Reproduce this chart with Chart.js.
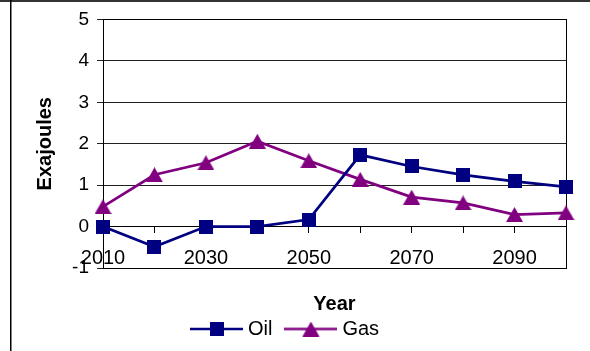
<!DOCTYPE html>
<html>
<head>
<meta charset="utf-8">
<script src="https://cdn.jsdelivr.net/npm/chart.js@4.4.1/dist/chart.umd.min.js"></script>
<style>
  html, body { margin: 0; padding: 0; background: #fff; }
  #wrap { width: 590px; height: 351px; }
</style>
</head>
<body>
<div id="wrap"><canvas id="chart" width="590" height="351"></canvas></div>
<script>
// Energy output by decade (exajoules)
const years = ['2010', '2020', '2030', '2040', '2050', '2060', '2070', '2080', '2090', '2100'];
const tickLabels = ['2010', '2030', '2050', '2070', '2090'];
const oil = [0, -0.49, 0, 0, 0.17, 1.73, 1.45, 1.25, 1.09, 0.96];
const gas = [0.48, 1.25, 1.54, 2.06, 1.59, 1.14, 0.71, 0.57, 0.29, 0.33];
const yMin = -1;
const yMax = 5;

const OIL_COLOR = '#000080';
const GAS_COLOR = '#800080';
const FONT = '"Liberation Sans", Arial, sans-serif';

// Marker bitmaps
function squareMarker(color, size) {
  const c = document.createElement('canvas');
  c.width = size; c.height = size;
  const g = c.getContext('2d');
  g.fillStyle = color;
  g.fillRect(0, 0, size, size);
  return c;
}
function triangleMarker(color, w, h) {
  const c = document.createElement('canvas');
  c.width = w; c.height = h;
  const g = c.getContext('2d');
  g.fillStyle = color;
  g.beginPath();
  g.moveTo(w / 2, 0);
  g.lineTo(w, h);
  g.lineTo(0, h);
  g.closePath();
  g.fill();
  return c;
}
// Legend swatch: line with the marker in the middle
function swatch(color, marker, width) {
  const c = document.createElement('canvas');
  c.width = width; c.height = Math.max(marker.height, 4);
  const g = c.getContext('2d');
  g.strokeStyle = color;
  g.lineWidth = 2.5;
  g.beginPath();
  g.moveTo(0, c.height / 2);
  g.lineTo(width, c.height / 2);
  g.stroke();
  g.drawImage(marker, Math.round((width - marker.width) / 2), Math.round((c.height - marker.height) / 2));
  return c;
}

const oilMarker = squareMarker(OIL_COLOR, 14);
const gasMarker = triangleMarker(GAS_COLOR, 17, 15);
const swatches = [swatch(OIL_COLOR, oilMarker, 53), swatch(GAS_COLOR, gasMarker, 53)];

// Outer frame and plot-area outline
const framePlugin = {
  id: 'frame',
  beforeDraw(chart) {
    const ctx = chart.ctx;
    ctx.save();
    ctx.fillStyle = '#fff';
    ctx.fillRect(0, 0, chart.width, chart.height);
    ctx.fillStyle = '#333';
    ctx.fillRect(0, 0, chart.width, 2);
    ctx.fillStyle = '#000';
    ctx.fillRect(10, 0, 1.5, chart.height);
    ctx.restore();
  },
  beforeDatasetsDraw(chart) {
    const a = chart.chartArea;
    const ctx = chart.ctx;
    ctx.save();
    ctx.strokeStyle = '#000';
    ctx.lineWidth = 1;
    ctx.strokeRect(Math.round(a.left) + 0.5, Math.round(a.top) + 0.5, Math.round(a.right - a.left), Math.round(a.bottom - a.top));
    ctx.restore();
  }
};

new Chart(document.getElementById('chart'), {
  type: 'line',
  data: {
    labels: years,
    datasets: [
      {
        label: 'Oil', data: oil,
        borderColor: OIL_COLOR, backgroundColor: OIL_COLOR, borderWidth: 2.75,
        pointStyle: oilMarker, tension: 0
      },
      {
        label: 'Gas', data: gas,
        borderColor: GAS_COLOR, backgroundColor: GAS_COLOR, borderWidth: 2.75,
        pointStyle: gasMarker, tension: 0
      }
    ]
  },
  options: {
    responsive: false,
    animation: false,
    devicePixelRatio: 1,
    layout: { padding: { left: 8, right: 24, top: 19, bottom: 2 } },
    scales: {
      x: {
        type: 'category',
        position: { y: 0 },
        offset: false,
        grid: { drawOnChartArea: false, drawTicks: true, tickLength: 6, color: '#000' },
        border: { display: true, color: '#000', width: 1 },
        ticks: {
          autoSkip: false, maxRotation: 0, padding: 14,
          color: '#000', font: { family: FONT, size: 20 },
          callback(value, index) {
            const lbl = years[index];
            return tickLabels.includes(lbl) ? lbl : '';
          }
        }
      },
      y: {
        min: yMin, max: yMax,
        afterFit(scale) { scale.width = 95; },
        grid: { color: '#222', lineWidth: 1, tickLength: 6 },
        border: { display: true, color: '#000', width: 1 },
        ticks: { stepSize: 1, padding: 8, color: '#000', font: { family: FONT, size: 19 } },
        title: {
          display: true, text: 'Exajoules', color: '#000',
          font: { family: FONT, size: 20, weight: 'bold' }, padding: { top: 25, bottom: 0 }
        }
      }
    },
    plugins: {
      title: {
        display: true, position: 'bottom', text: 'Year', color: '#000', weight: 500, fullSize: false,
        font: { family: FONT, size: 20, weight: 'bold' }, padding: { top: 24, bottom: -14 }
      },
      legend: {
        display: true, position: 'bottom',
        labels: {
          usePointStyle: true, pointStyleWidth: 43, padding: 17,
          color: '#000', font: { family: FONT, size: 20 },
          generateLabels(chart) {
            return chart.data.datasets.map((ds, i) => ({
              text: ds.label, pointStyle: swatches[i],
              fillStyle: ds.borderColor, strokeStyle: ds.borderColor,
              lineWidth: 0, hidden: false, datasetIndex: i, fontColor: '#000'
            }));
          }
        }
      },
      tooltip: { enabled: false }
    },
    elements: { point: { radius: 8, hoverRadius: 8 } }
  },
  plugins: [framePlugin]
});
</script>
</body>
</html>
